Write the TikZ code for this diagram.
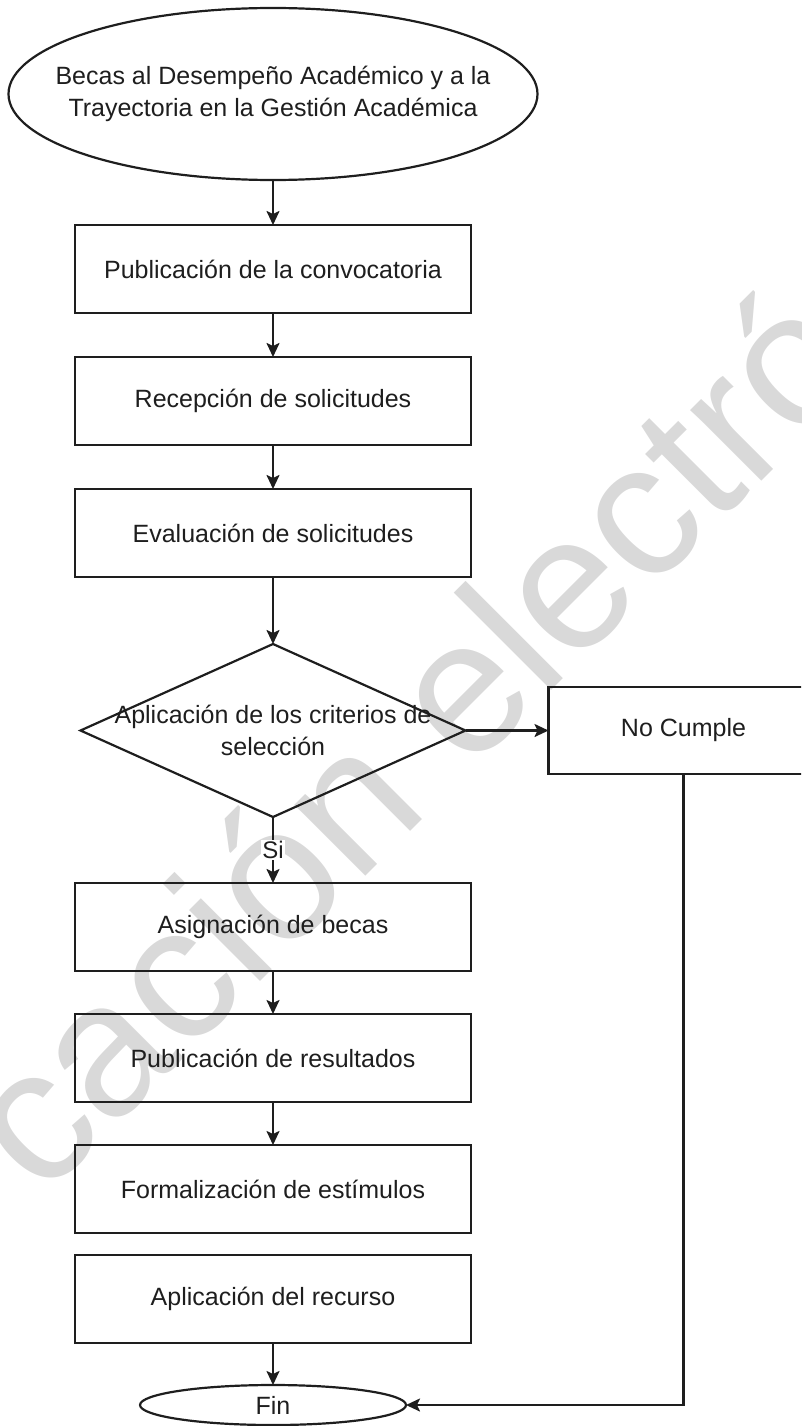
\documentclass[tikz,border=0pt]{standalone}
\usepackage{fontspec}
\setmainfont{Liberation Sans}
\usetikzlibrary{arrows.meta,shapes.geometric,positioning}
\definecolor{linea}{RGB}{30,30,30}
\definecolor{sello}{RGB}{217,217,217}
\tikzstyle{every node}=[font=\fontsize{25}{32}\selectfont, text=linea]
\tikzstyle{process box}=[rectangle, draw=linea, minimum width=396pt, minimum height=88pt, inner sep=0pt, outer sep=0pt]
\tikzstyle{start ellipse}=[ellipse, draw=linea, minimum width=529pt, minimum height=172pt, inner sep=0pt, outer sep=0pt]
\tikzstyle{end ellipse}=[start ellipse, minimum width=266pt, minimum height=40pt]
\tikzstyle{decision diamond}=[diamond, draw=linea, minimum width=385pt, minimum height=173pt, inner sep=0pt, outer sep=0pt]
\tikzstyle{watermark}=[font=\fontsize{190}{190}\selectfont, text=sello, inner sep=0pt]

\begin{document}
\begin{tikzpicture}[->,>={Stealth[length=14pt,width=13pt,inset=3pt]},draw=linea,line width=2.2pt,x=1pt,y=1pt]
  \useasboundingbox (0,0) rectangle (801,-1426);
  \clip (0,0) rectangle (801,-1426);
  % sello de fondo
  \node[watermark, rotate=45, anchor=base west] (sello) at (42,-1200) {cación electró};

  \node[start ellipse] (inicio) at (273,-94) {};
  \node[align=center] (iniciotxt) at (inicio) {Becas al Desempeño Académico y a la\\Trayectoria en la Gestión Académica};
  \node[process box, below=45pt of inicio] (convoca) {Publicación de la convocatoria};
  \node[process box, below=44pt of convoca] (recep) {Recepción de solicitudes};
  \node[process box, below=44pt of recep] (evalua) {Evaluación de solicitudes};
  \node[decision diamond, below=67pt of evalua] (criterio) {};
  \node[align=center] (criteriotxt) at (criterio) {Aplicación de los criterios de\\selección};
  \node[process box, minimum width=270pt, minimum height=87pt, right=83pt of criterio] (nocumple) {No Cumple};
  \node[process box, below=66pt of criterio] (asigna) {Asignación de becas};
  \node[process box, below=43pt of asigna] (result) {Publicación de resultados};
  \node[process box, below=43pt of result] (formal) {Formalización de estímulos};
  \node[process box, below=22pt of formal] (aplica) {Aplicación del recurso};
  \node[end ellipse, below=42pt of aplica] (fin) {Fin};

  \path (inicio) edge (convoca);
  \path (convoca) edge (recep);
  \path (recep) edge (evalua);
  \path (evalua) edge (criterio);
  \path (criterio) edge (nocumple);
  \path (criterio) edge node[fill=white, inner sep=1pt, font=\fontsize{24}{28}\selectfont] {Si} (asigna);
  \path (asigna) edge (result);
  \path (result) edge (formal);
  \path (aplica) edge (fin);
  \draw (nocumple.south) |- (fin.east);
\end{tikzpicture}
\end{document}
